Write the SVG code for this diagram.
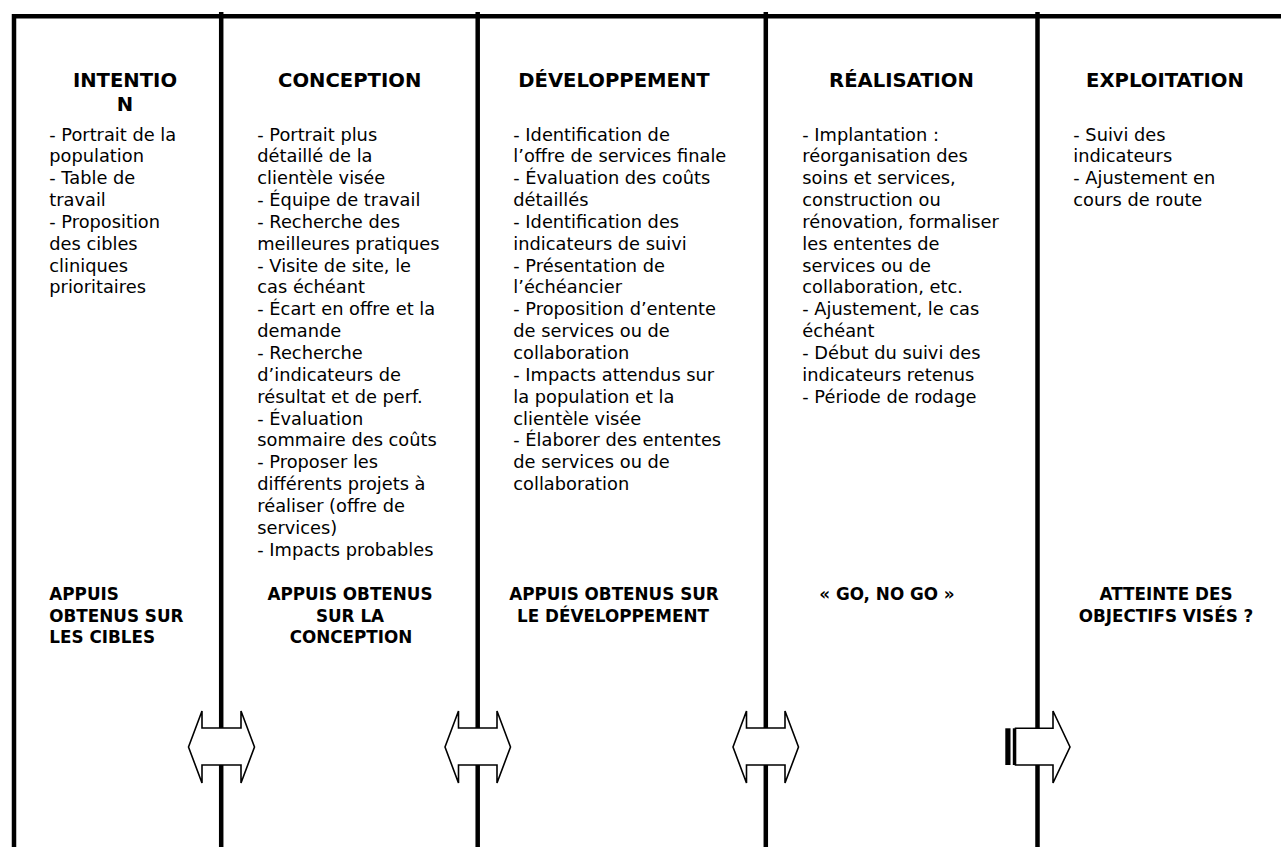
<svg xmlns="http://www.w3.org/2000/svg" width="1281" height="847" viewBox="0 0 1281 847">
<style>
.ln{stroke:#000;stroke-width:4.5;fill:none}
.ttl{font-family:"DejaVu Sans",sans-serif;font-weight:bold;font-size:19.6px;fill:#000;text-anchor:middle}
.bd{font-family:"DejaVu Sans",sans-serif;font-size:17.8px;fill:#000}
.lb{font-family:"DejaVu Sans",sans-serif;font-weight:bold;font-size:16.8px;fill:#000}
.mid{text-anchor:middle}
.arr{fill:#fff;stroke:#000;stroke-width:1.6;stroke-linejoin:miter}
</style>
<rect width="1281" height="847" fill="#fff"/>
<g id="frame">
<line class="ln" x1="12" y1="16.3" x2="1281" y2="16.3"/>
<line class="ln" x1="14" y1="14" x2="14" y2="847"/>
<line class="ln" x1="221.2" y1="12" x2="221.2" y2="847"/>
<line class="ln" x1="477.7" y1="12" x2="477.7" y2="847"/>
<line class="ln" x1="765.8" y1="12" x2="765.8" y2="847"/>
<line class="ln" x1="1037.5" y1="12" x2="1037.5" y2="847"/>
</g>
<g id="connectors">
<path class="arr" d="M188.5,747 L202,711 V728 H241 V711 L254.5,747 L241,783 V765 H202 V783 Z"/>
<path class="arr" d="M445,747 L458.5,711 V728 H497 V711 L510.5,747 L497,783 V765 H458.5 V783 Z"/>
<path class="arr" d="M733,747 L746.5,711 V728 H785 V711 L798.5,747 L785,783 V765 H746.5 V783 Z"/>
<rect x="1005.3" y="728.3" width="5.2" height="36.7" fill="#000"/>
<rect x="1012.8" y="728.3" width="2.4" height="36.7" fill="#000"/>
<path class="arr" d="M1015.5,728.3 H1053 V711 L1070,747 L1053,783 V765 H1015.5 Z"/>
</g>
<g id="intention">
<text class="ttl" x="125" y="87.3">INTENTIO</text>
<text class="ttl" x="125" y="110.7">N</text>
<text class="bd" x="49.3" y="140.5">- Portrait de la</text>
<text class="bd" x="49.3" y="162.35">population</text>
<text class="bd" x="49.3" y="184.2">- Table de</text>
<text class="bd" x="49.3" y="206.05">travail</text>
<text class="bd" x="49.3" y="227.9">- Proposition</text>
<text class="bd" x="49.3" y="249.75">des cibles</text>
<text class="bd" x="49.3" y="271.6">cliniques</text>
<text class="bd" x="49.3" y="293.45">prioritaires</text>
<text class="lb" x="49.3" y="600">APPUIS</text>
<text class="lb" x="49.3" y="621.7">OBTENUS SUR</text>
<text class="lb" x="49.3" y="643.4">LES CIBLES</text>
</g>
<g id="conception">
<text class="ttl" x="349.7" y="87.3">CONCEPTION</text>
<text class="bd" x="257.3" y="140.5">- Portrait plus</text>
<text class="bd" x="257.3" y="162.35">détaillé de la</text>
<text class="bd" x="257.3" y="184.2">clientèle visée</text>
<text class="bd" x="257.3" y="206.05">- Équipe de travail</text>
<text class="bd" x="257.3" y="227.9">- Recherche des</text>
<text class="bd" x="257.3" y="249.75">meilleures pratiques</text>
<text class="bd" x="257.3" y="271.6">- Visite de site, le</text>
<text class="bd" x="257.3" y="293.45">cas échéant</text>
<text class="bd" x="257.3" y="315.3">- Écart en offre et la</text>
<text class="bd" x="257.3" y="337.15">demande</text>
<text class="bd" x="257.3" y="359">- Recherche</text>
<text class="bd" x="257.3" y="380.85">d’indicateurs de</text>
<text class="bd" x="257.3" y="402.7">résultat et de perf.</text>
<text class="bd" x="257.3" y="424.55">- Évaluation</text>
<text class="bd" x="257.3" y="446.4">sommaire des coûts</text>
<text class="bd" x="257.3" y="468.25">- Proposer les</text>
<text class="bd" x="257.3" y="490.1">différents projets à</text>
<text class="bd" x="257.3" y="511.95">réaliser (offre de</text>
<text class="bd" x="257.3" y="533.8">services)</text>
<text class="bd" x="257.3" y="555.65">- Impacts probables</text>
<text class="lb mid" x="350" y="600">APPUIS OBTENUS</text>
<text class="lb mid" x="350" y="621.7">SUR LA</text>
<text class="lb mid" x="351" y="643.4">CONCEPTION</text>
</g>
<g id="developpement">
<text class="ttl" x="614" y="87.3">DÉVELOPPEMENT</text>
<text class="bd" x="513.3" y="140.5">- Identification de</text>
<text class="bd" x="513.3" y="162.35">l’offre de services finale</text>
<text class="bd" x="513.3" y="184.2">- Évaluation des coûts</text>
<text class="bd" x="513.3" y="206.05">détaillés</text>
<text class="bd" x="513.3" y="227.9">- Identification des</text>
<text class="bd" x="513.3" y="249.75">indicateurs de suivi</text>
<text class="bd" x="513.3" y="271.6">- Présentation de</text>
<text class="bd" x="513.3" y="293.45">l’échéancier</text>
<text class="bd" x="513.3" y="315.3">- Proposition d’entente</text>
<text class="bd" x="513.3" y="337.15">de services ou de</text>
<text class="bd" x="513.3" y="359">collaboration</text>
<text class="bd" x="513.3" y="380.85">- Impacts attendus sur</text>
<text class="bd" x="513.3" y="402.7">la population et la</text>
<text class="bd" x="513.3" y="424.55">clientèle visée</text>
<text class="bd" x="513.3" y="446.4">- Élaborer des ententes</text>
<text class="bd" x="513.3" y="468.25">de services ou de</text>
<text class="bd" x="513.3" y="490.1">collaboration</text>
<text class="lb mid" x="614" y="600">APPUIS OBTENUS SUR</text>
<text class="lb mid" x="613" y="621.7">LE DÉVELOPPEMENT</text>
</g>
<g id="realisation">
<text class="ttl" x="901.5" y="87.3">RÉALISATION</text>
<text class="bd" x="802.3" y="140.5">- Implantation :</text>
<text class="bd" x="802.3" y="162.35">réorganisation des</text>
<text class="bd" x="802.3" y="184.2">soins et services,</text>
<text class="bd" x="802.3" y="206.05">construction ou</text>
<text class="bd" x="802.3" y="227.9">rénovation, formaliser</text>
<text class="bd" x="802.3" y="249.75">les ententes de</text>
<text class="bd" x="802.3" y="271.6">services ou de</text>
<text class="bd" x="802.3" y="293.45">collaboration, etc.</text>
<text class="bd" x="802.3" y="315.3">- Ajustement, le cas</text>
<text class="bd" x="802.3" y="337.15">échéant</text>
<text class="bd" x="802.3" y="359">- Début du suivi des</text>
<text class="bd" x="802.3" y="380.85">indicateurs retenus</text>
<text class="bd" x="802.3" y="402.7">- Période de rodage</text>
<text class="lb mid" x="887" y="600">« GO, NO GO »</text>
</g>
<g id="exploitation">
<text class="ttl" x="1165" y="87.3">EXPLOITATION</text>
<text class="bd" x="1073.3" y="140.5">- Suivi des</text>
<text class="bd" x="1073.3" y="162.35">indicateurs</text>
<text class="bd" x="1073.3" y="184.2">- Ajustement en</text>
<text class="bd" x="1073.3" y="206.05">cours de route</text>
<text class="lb mid" x="1166" y="600">ATTEINTE DES</text>
<text class="lb mid" x="1166" y="621.7">OBJECTIFS VISÉS ?</text>
</g>
</svg>
